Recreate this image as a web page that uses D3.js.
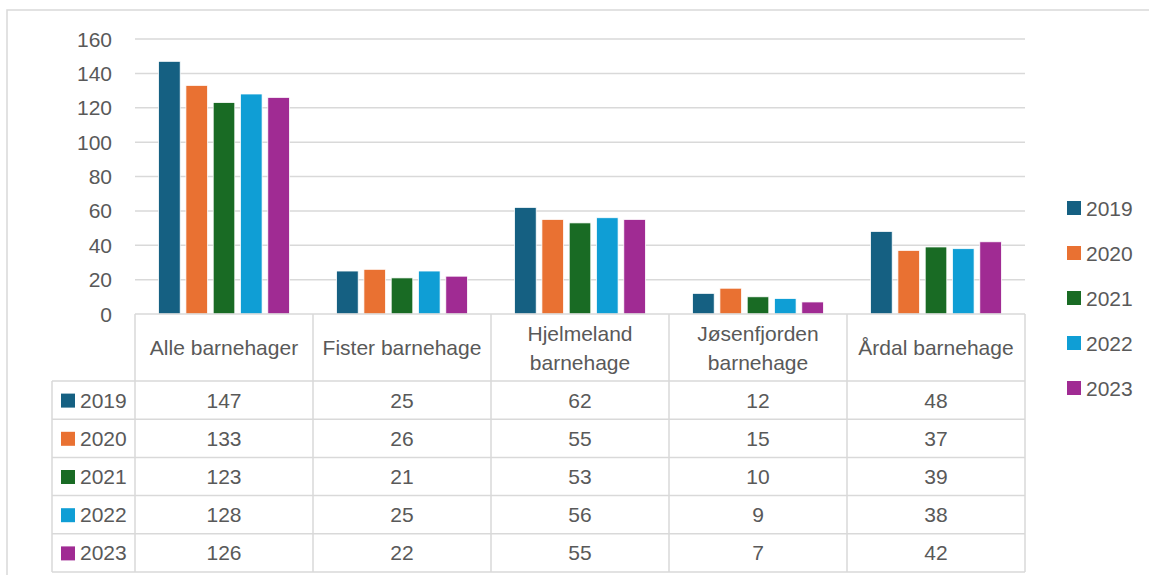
<!DOCTYPE html>
<html>
<head>
<meta charset="utf-8">
<script src="https://cdn.jsdelivr.net/npm/d3@7.9.0/dist/d3.min.js"></script>
<style>
  body { margin: 0; background: #fff; }
  svg text { font-family: "Liberation Sans", Arial, sans-serif; fill: #595959; }
</style>
</head>
<body>
<svg id="chart" width="1149" height="575"></svg>
<script>
const categories = ["Alle barnehager", "Fister barnehage", "Hjelmeland barnehage", "Jøsenfjorden barnehage", "Årdal barnehage"];
const headerLines = [["Alle barnehager"], ["Fister barnehage"], ["Hjelmeland", "barnehage"], ["Jøsenfjorden", "barnehage"], ["Årdal barnehage"]];
const years = ["2019", "2020", "2021", "2022", "2023"];
const v2019 = [147, 25, 62, 12, 48];
const v2020 = [133, 26, 55, 15, 37];
const v2021 = [123, 21, 53, 10, 39];
const v2022 = [128, 25, 56, 9, 38];
const v2023 = [126, 22, 55, 7, 42];
const yTicks = [0, 20, 40, 60, 80, 100, 120, 140, 160];
const colors = ["#156082", "#E97132", "#196B24", "#0F9ED5", "#A02B93"];

const series = [v2019, v2020, v2021, v2022, v2023];
const grid = "#d9d9d9";
const fs = 21;

const svg = d3.select("#chart");

// outer chart border (runs off right/bottom)
svg.append("rect")
  .attr("x", 7).attr("y", 10).attr("width", 1170).attr("height", 600)
  .attr("fill", "none").attr("stroke", grid).attr("stroke-width", 1.5);

const plotL = 135, plotR = 1025, plotT = 39, base = 314;
const y = d3.scaleLinear().domain([0, 160]).range([base, plotT]);
const x0 = d3.scaleBand().domain(categories).range([plotL, plotR]);
const x1 = d3.scaleBand().domain(years).range([0, x0.bandwidth()])
  .paddingInner(0.21).paddingOuter(0.865);
const color = d3.scaleOrdinal().domain(years).range(colors);

// gridlines
svg.append("g").selectAll("line")
  .data(yTicks.filter(t => t > 0))
  .join("line")
  .attr("x1", plotL).attr("x2", plotR)
  .attr("y1", d => y(d)).attr("y2", d => y(d))
  .attr("stroke", grid).attr("stroke-width", 1.5);

// y tick labels
svg.append("g").selectAll("text")
  .data(yTicks)
  .join("text")
  .attr("x", 112).attr("y", d => y(d))
  .attr("dy", "0.36em")
  .attr("text-anchor", "end")
  .attr("font-size", fs)
  .text(d => d);

// bars
const groups = svg.append("g").selectAll("g")
  .data(categories)
  .join("g")
  .attr("transform", d => `translate(${x0(d)},0)`);

groups.selectAll("rect")
  .data((c, ci) => years.map((yr, i) => ({ yr, v: series[i][ci] })))
  .join("rect")
  .attr("x", d => x1(d.yr))
  .attr("width", x1.bandwidth())
  .attr("y", d => y(d.v))
  .attr("height", d => base - y(d.v))
  .attr("fill", d => color(d.yr))
  .attr("stroke", "#fff").attr("stroke-width", 0.75);

// data table
const rowTop = 381, rowH = (572 - 381) / 5, tableLeft = 52;
const tbl = svg.append("g");
const rowY = d3.range(6).map(i => rowTop + i * rowH);

// horizontal lines
tbl.append("line").attr("x1", plotL).attr("x2", plotR).attr("y1", base).attr("y2", base)
  .attr("stroke", grid).attr("stroke-width", 1.5);
tbl.selectAll("line.h").data(rowY).join("line").attr("class", "h")
  .attr("x1", tableLeft).attr("x2", plotR)
  .attr("y1", d => d).attr("y2", d => d)
  .attr("stroke", grid).attr("stroke-width", 1.5);
// vertical lines
const colX = categories.map(c => x0(c)).concat([plotR]);
tbl.selectAll("line.v").data(colX).join("line").attr("class", "v")
  .attr("x1", d => d).attr("x2", d => d)
  .attr("y1", base).attr("y2", rowY[5])
  .attr("stroke", grid).attr("stroke-width", 1.5);
tbl.append("line").attr("x1", tableLeft).attr("x2", tableLeft)
  .attr("y1", rowTop).attr("y2", rowY[5])
  .attr("stroke", grid).attr("stroke-width", 1.5);

// header labels
categories.forEach((c, ci) => {
  const lines = headerLines[ci];
  const cx = x0(c) + x0.bandwidth() / 2;
  const mid = (base + rowTop) / 2;
  const lh = 29;
  lines.forEach((ln, li) => {
    tbl.append("text")
      .attr("x", cx)
      .attr("y", mid + (li - (lines.length - 1) / 2) * lh)
      .attr("dy", "0.36em")
      .attr("text-anchor", "middle")
      .attr("font-size", fs)
      .text(ln);
  });
});

// rows
years.forEach((yr, i) => {
  const cy = rowY[i] + rowH / 2;
  tbl.append("rect").attr("x", 61).attr("y", cy - 6.5).attr("width", 14).attr("height", 14)
    .attr("fill", color(yr));
  tbl.append("text").attr("x", 80).attr("y", cy).attr("dy", "0.36em")
    .attr("font-size", fs).text(yr);
  categories.forEach((c, ci) => {
    tbl.append("text")
      .attr("x", x0(c) + x0.bandwidth() / 2)
      .attr("y", cy).attr("dy", "0.36em")
      .attr("text-anchor", "middle")
      .attr("font-size", fs)
      .text(series[i][ci]);
  });
});

// right legend
const lg = svg.append("g").attr("transform", "translate(1067,201)");
years.forEach((yr, i) => {
  lg.append("rect").attr("x", 0).attr("y", i * 45).attr("width", 14).attr("height", 14)
    .attr("fill", color(yr));
  lg.append("text").attr("x", 19).attr("y", i * 45 + 7).attr("dy", "0.36em")
    .attr("font-size", fs).text(yr);
});
</script>
</body>
</html>
